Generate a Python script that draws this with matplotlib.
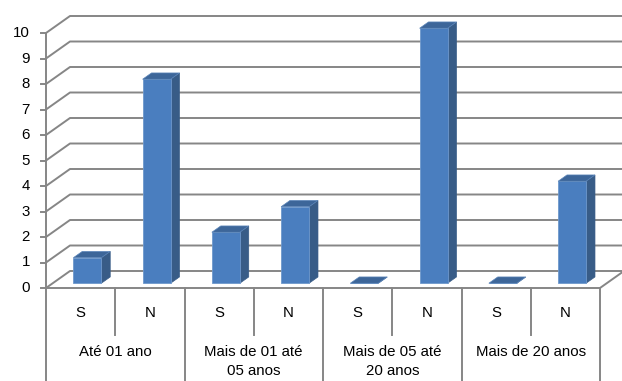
import matplotlib
matplotlib.use("Agg")
import matplotlib.pyplot as plt
from matplotlib.patches import Polygon

groups = ["Até 01 ano", "Mais de 01 até\n05 anos", "Mais de 05 até\n20 anos", "Mais de 20 anos"]
sub_labels = ["S", "N"]
values = [1, 8, 2, 3, 0, 10, 0, 4]
yticks = list(range(0, 11))

W, H = 622, 381
fig = plt.figure(figsize=(W / 100, H / 100), dpi=100)
ax = fig.add_axes([0, 0, 1, 1])
plt.rcParams['font.family'] = ['Liberation Sans', 'DejaVu Sans']

# pixel layout -> data units
x0_px, x8_px = 46, 600
y0_px, y10_px = 288, 33
ux = (x8_px - x0_px) / 8.0
uy = (y0_px - y10_px) / 10.0
ax.set_xlim(-x0_px / ux, (W - x0_px) / ux)
ax.set_ylim(-(H - y0_px) / uy, y0_px / uy)
ax.axis("off")

DX = 24 / ux   # depth offset
DY = 17 / uy
n = len(values)
grid_c = "#868686"

# back wall gridlines + left wall diagonals
for v in yticks:
    ax.plot([0, DX, n + DX + 1], [v, v + DY, v + DY], color=grid_c, lw=1.4,
            solid_capstyle="butt", zorder=1)
# floor right edge
ax.plot([n, n + DX], [0, DY], color=grid_c, lw=1.4, zorder=1)
# y axis
ax.plot([0, 0], [0, 10], color=grid_c, lw=1.4, zorder=2)
ax.plot([0, n], [0, 0], color=grid_c, lw=1.4, zorder=2)
for v in yticks:
    ax.plot([-5 / ux, 0], [v, v], color=grid_c, lw=1.4, zorder=2)
    ax.text(-16 / ux, v, str(v), ha="right", va="center", fontsize=10.8, color="black")

# category axis ticks
inner_len = (335 - y0_px) / uy
outer_len = (H - y0_px) / uy
for i in range(n + 1):
    L = outer_len if i % 2 == 0 else inner_len
    ax.plot([i, i], [0, -L], color=grid_c, lw=1.4, zorder=2)
for i in range(n):
    ax.text(i + 0.5, -(313 - y0_px) / uy, sub_labels[i % 2], ha="center", va="center",
            fontsize=10.8, color="black")
for g, name in enumerate(groups):
    ax.text(2 * g + 1, -(345 - y0_px) / uy, name, ha="center", va="top",
            fontsize=10.8, color="black", linespacing=1.45)

# bars (3D columns)
bw = 28 / ux
f = 0.28       # front face depth fraction
d = 0.37       # bar depth fraction
front_c, side_c, top_c = "#4A7EBF", "#385C87", "#3D6699"
ox, oy = f * DX, f * DY
bx, by = d * DX, d * DY
xs = [i + 0.5 - bw / 2 + ox for i in range(n)]
ax.bar(xs, values, width=bw, bottom=oy, align="edge", color=front_c,
       edgecolor="#6E98CC", linewidth=0.6, zorder=5)
for x, v in zip(xs, values):
    top = v + oy
    side = Polygon([(x + bw, oy), (x + bw + bx, oy + by), (x + bw + bx, top + by), (x + bw, top)],
                   closed=True, facecolor=side_c, edgecolor=side_c, lw=0.5, zorder=4)
    topf = Polygon([(x, top), (x + bx, top + by), (x + bw + bx, top + by), (x + bw, top)],
                   closed=True, facecolor=top_c, edgecolor="#5C86BA", lw=0.5, zorder=6)
    ax.add_patch(side)
    ax.add_patch(topf)

fig.savefig("out.png", dpi=100)
